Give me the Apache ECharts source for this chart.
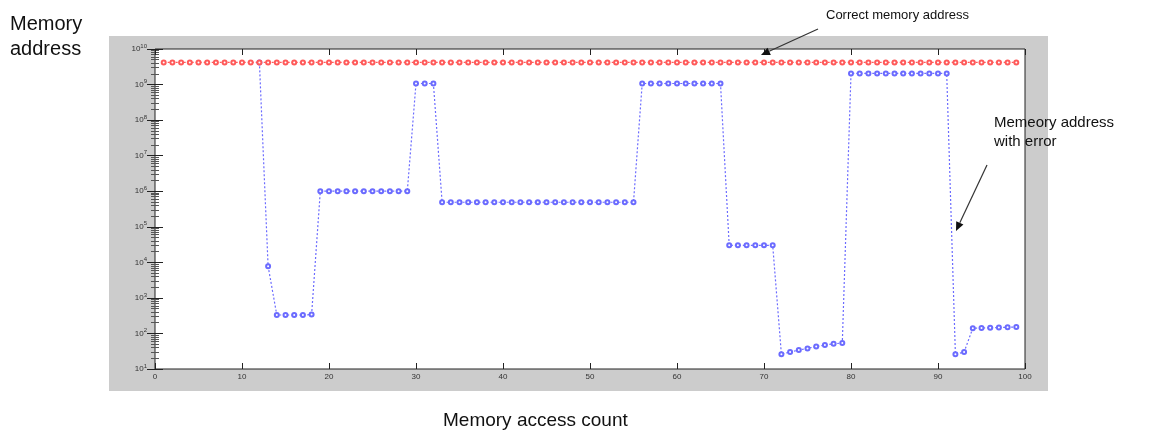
<!DOCTYPE html>
<html>
<head>
<meta charset="utf-8">
<script src="https://cdn.jsdelivr.net/npm/echarts@6/dist/echarts.min.js"></script>
<style>
  html, body { margin: 0; padding: 0; background: #fff; }
  #chart { width: 1149px; height: 434px; }
</style>
</head>
<body>
<div id="chart"></div>
<script>
// memory access index (x axis)
const accessCount = [
  1, 2, 3, 4, 5, 6, 7, 8, 9, 10,
  11, 12, 13, 14, 15, 16, 17, 18, 19, 20,
  21, 22, 23, 24, 25, 26, 27, 28, 29, 30,
  31, 32, 33, 34, 35, 36, 37, 38, 39, 40,
  41, 42, 43, 44, 45, 46, 47, 48, 49, 50,
  51, 52, 53, 54, 55, 56, 57, 58, 59, 60,
  61, 62, 63, 64, 65, 66, 67, 68, 69, 70,
  71, 72, 73, 74, 75, 76, 77, 78, 79, 80,
  81, 82, 83, 84, 85, 86, 87, 88, 89, 90,
  91, 92, 93, 94, 95, 96, 97, 98, 99
]
// correct address (red)
const correctAddr = [
  4.2e9, 4.2e9, 4.2e9, 4.2e9, 4.2e9, 4.2e9, 4.2e9, 4.2e9, 4.2e9, 4.2e9,
  4.2e9, 4.2e9, 4.2e9, 4.2e9, 4.2e9, 4.2e9, 4.2e9, 4.2e9, 4.2e9, 4.2e9,
  4.2e9, 4.2e9, 4.2e9, 4.2e9, 4.2e9, 4.2e9, 4.2e9, 4.2e9, 4.2e9, 4.2e9,
  4.2e9, 4.2e9, 4.2e9, 4.2e9, 4.2e9, 4.2e9, 4.2e9, 4.2e9, 4.2e9, 4.2e9,
  4.2e9, 4.2e9, 4.2e9, 4.2e9, 4.2e9, 4.2e9, 4.2e9, 4.2e9, 4.2e9, 4.2e9,
  4.2e9, 4.2e9, 4.2e9, 4.2e9, 4.2e9, 4.2e9, 4.2e9, 4.2e9, 4.2e9, 4.2e9,
  4.2e9, 4.2e9, 4.2e9, 4.2e9, 4.2e9, 4.2e9, 4.2e9, 4.2e9, 4.2e9, 4.2e9,
  4.2e9, 4.2e9, 4.2e9, 4.2e9, 4.2e9, 4.2e9, 4.2e9, 4.2e9, 4.2e9, 4.2e9,
  4.2e9, 4.2e9, 4.2e9, 4.2e9, 4.2e9, 4.2e9, 4.2e9, 4.2e9, 4.2e9, 4.2e9,
  4.2e9, 4.2e9, 4.2e9, 4.2e9, 4.2e9, 4.2e9, 4.2e9, 4.2e9, 4.2e9
]
// address with error (blue), starts at access 12
const errorAddr = [
  null, null, null, null, null, null, null, null, null, null,
  null, 4.2e9, 7.8e3, 330, 330, 330, 330, 340, 1e6, 1e6,
  1e6, 1e6, 1e6, 1e6, 1e6, 1e6, 1e6, 1e6, 1e6, 1.07e9,
  1.07e9, 1.07e9, 4.9e5, 4.9e5, 4.9e5, 4.9e5, 4.9e5, 4.9e5, 4.9e5, 4.9e5,
  4.9e5, 4.9e5, 4.9e5, 4.9e5, 4.9e5, 4.9e5, 4.9e5, 4.9e5, 4.9e5, 4.9e5,
  4.9e5, 4.9e5, 4.9e5, 4.9e5, 4.9e5, 1.07e9, 1.07e9, 1.07e9, 1.07e9, 1.07e9,
  1.07e9, 1.07e9, 1.07e9, 1.07e9, 1.07e9, 3.0e4, 3.0e4, 3.0e4, 3.0e4, 3.0e4,
  3.0e4, 26, 30, 34, 38, 43, 47, 51, 54, 2.05e9,
  2.05e9, 2.05e9, 2.05e9, 2.05e9, 2.05e9, 2.05e9, 2.05e9, 2.05e9, 2.05e9, 2.05e9,
  2.05e9, 26, 30, 140, 142, 144, 146, 150, 152
]

const FONT = '"Liberation Sans", Arial, sans-serif'

// annotation arrow: line plus filled head
function arrow(x1, y1, x2, y2) {
  const ang = Math.atan2(y2 - y1, x2 - x1)
  const len = 9, w = 4
  const bx = x2 - len * Math.cos(ang), by = y2 - len * Math.sin(ang)
  const px = -Math.sin(ang) * w, py = Math.cos(ang) * w
  return [
    { type: 'line', z: 100, shape: { x1: x1, y1: y1, x2: bx, y2: by }, style: { stroke: '#333', lineWidth: 1.2 } },
    { type: 'polygon', z: 100, shape: { points: [[x2, y2], [bx + px, by + py], [bx - px, by - py]] }, style: { fill: '#111' } }
  ]
}

function logLabel(v) {
  return '{b|10}{s|' + Math.round(Math.log10(v)) + '}'
}
const logRich = {
  b: { fontSize: 8, color: '#333', fontFamily: FONT },
  s: { fontSize: 6, color: '#333', fontFamily: FONT, verticalAlign: 'bottom', padding: [0, 0, 6, 0] }
}

const chart = echarts.init(document.getElementById('chart'))
chart.setOption({
  animation: false,
  backgroundColor: '#fff',
  grid: {
    left: 155, right: 124, top: 49, bottom: 65,
    show: true, backgroundColor: '#fff', borderColor: '#222', borderWidth: 1
  },
  graphic: [
    { type: 'rect', z: -10, silent: true, shape: { x: 109, y: 36, width: 939, height: 355 }, style: { fill: '#cccccc' } },
    { type: 'text', left: 10, top: 12, style: { text: 'Memory\naddress', fontSize: 20, lineHeight: 25, fontFamily: FONT, fill: '#111' } },
    { type: 'text', left: 443, top: 411, style: { text: 'Memory access count', fontSize: 19, fontFamily: FONT, fill: '#111' } },
    { type: 'text', left: 826, top: 9, style: { text: 'Correct memory address', fontSize: 13, fontFamily: FONT, fill: '#111' } },
    { type: 'text', left: 994, top: 113, style: { text: 'Memeory address\nwith error', fontSize: 15, lineHeight: 19, fontFamily: FONT, fill: '#111' } }
  ].concat(arrow(818, 29, 761, 55), arrow(987, 165, 956, 231)),
  xAxis: [
    {
      type: 'value', min: 0, max: 100, interval: 10,
      axisLine: { show: false },
      axisTick: { inside: true, length: 6, lineStyle: { color: '#222' } },
      axisLabel: { fontSize: 8, color: '#333', fontFamily: FONT, margin: 4 },
      splitLine: { show: false }
    },
    {
      type: 'value', position: 'top', min: 0, max: 100, interval: 10,
      axisLine: { show: false },
      axisTick: { inside: true, length: 6, lineStyle: { color: '#222' } },
      axisLabel: { show: false },
      splitLine: { show: false }
    }
  ],
  yAxis: [
    {
      type: 'log', logBase: 10, min: 10, max: 1e10, splitNumber: 9,
      axisLine: { show: false },
      axisTick: { inside: true, length: 8, lineStyle: { color: '#222' } },
      minorTick: { show: true, splitNumber: 9, length: 4, lineStyle: { color: '#555' } },
      axisLabel: { formatter: logLabel, rich: logRich, margin: 8 },
      splitLine: { show: false }
    },
    {
      type: 'log', logBase: 10, min: 10, max: 1e10, splitNumber: 9, position: 'right',
      axisLine: { show: false },
      axisTick: { inside: true, length: 8, lineStyle: { color: '#222' } },
      minorTick: { show: true, splitNumber: 9, length: 4, lineStyle: { color: '#555' } },
      axisLabel: { show: false },
      splitLine: { show: false }
    }
  ],
  series: [
    {
      name: 'error', type: 'line', z: 3,
      data: accessCount.map((c, i) => [c, errorAddr[i]]),
      symbol: 'emptyCircle', symbolSize: 4,
      lineStyle: { color: '#6b6bff', width: 1.2, type: [2, 2] },
      itemStyle: { color: '#6b6bff', borderWidth: 1 }
    },
    {
      name: 'correct', type: 'line', z: 4,
      data: accessCount.map((c, i) => [c, correctAddr[i]]),
      symbol: 'emptyCircle', symbolSize: 4,
      lineStyle: { color: '#ff5a5a', width: 1.2, type: [2, 2] },
      itemStyle: { color: '#ff5a5a', borderWidth: 1 }
    }
  ]
})
</script>
</body>
</html>
